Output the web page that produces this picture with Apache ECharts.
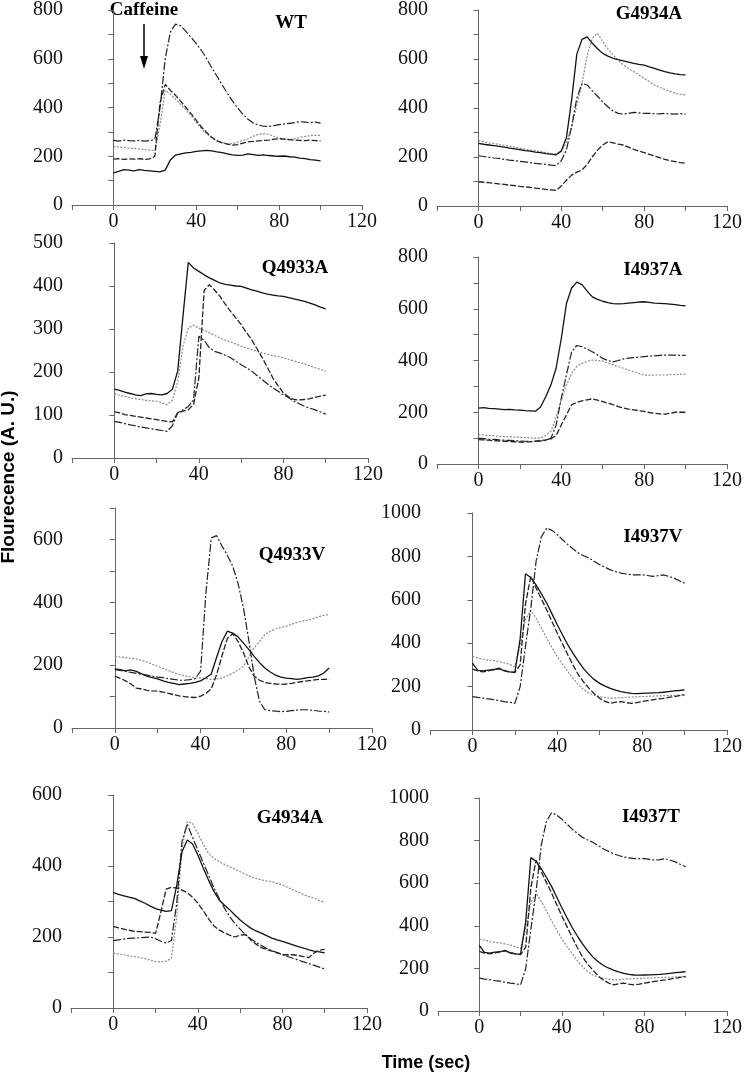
<!DOCTYPE html>
<html><head><meta charset="utf-8">
<script src="https://cdn.jsdelivr.net/npm/echarts@6/dist/echarts.min.js"></script>
<style>html,body{margin:0;padding:0;background:#fff}#c{width:745px;height:1075px}</style>
</head><body><div id="c"></div>
<script>
// time points (sec)
const time = [0,2.5,5,7.5,10,12.5,15,17.5,20,22.5,25,27.5,30,32.5,35,37.5,40,42.5,45,47.5,50,52.5,55,57.5,60,62.5,65,67.5,70,72.5,75,77.5,80,82.5,85,87.5,90,92.5,95,97.5,100];

const panelTitles = ['WT','G4934A','Q4933A','I4937A','Q4933V','I4937V','G4934A','I4937T'];
const xTickLabels = [0,40,80,120];
const yMax = [800,800,500,800,700,1000,600,1000];
const yLabelStep = [200,200,100,200,200,200,200,200];
const yTickStep = [100,100,100,100,100,200,100,200];

// WT
const wtDashDot = [265,262,266,264,263,265,262,264,268,400,600,710,742,735,712,688,662,634,600,563,528,493,458,426,398,372,352,336,328,323,322,326,330,332,335,338,342,340,338,340,336];
const wtDashed  = [188,190,187,189,188,190,187,189,200,420,495,470,450,425,400,375,347,320,297,278,263,255,250,246,248,254,259,261,263,265,266,270,272,270,268,266,265,264,266,264,263];
const wtGray    = [240,238,236,233,232,230,228,225,222,330,470,455,435,412,390,365,340,313,292,275,263,256,252,252,258,265,272,282,290,293,290,282,275,271,268,272,278,281,284,286,286];
const wtSolid   = [132,138,145,143,140,145,142,140,138,136,143,185,205,210,214,216,220,222,224,222,218,215,210,206,204,205,210,207,204,206,203,201,200,201,198,196,192,190,186,184,181];

// G4934A (top right)
const gaSolid   = [256,252,249,246,243,240,236,233,230,226,224,220,218,214,212,209,225,280,433,620,680,690,664,642,623,612,603,597,592,587,582,578,575,568,562,555,548,543,539,536,535];
const gaGray    = [267,262,258,255,251,248,244,240,236,232,228,225,222,218,214,212,220,262,324,410,500,615,684,705,671,642,616,594,575,560,548,535,521,508,494,484,476,468,460,456,453];
const gaDashDot = [205,202,199,196,194,190,187,185,182,180,177,174,172,170,167,165,185,230,324,440,500,494,470,448,425,405,388,378,375,378,382,380,378,378,377,376,378,376,375,377,375];
const gaDashed  = [99,97,95,93,90,88,85,83,80,78,76,73,71,68,66,64,82,105,126,138,147,170,201,228,249,262,258,253,249,240,231,224,218,211,204,197,190,185,181,177,174];

// Q4933A
const qaSolid   = [160,157,153,150,147,145,149,150,148,147,150,160,202,330,455,442,434,426,419,413,407,404,402,400,399,395,391,388,384,381,379,377,376,373,370,367,364,360,356,351,347];
const qaDashed  = [108,105,101,99,97,95,93,91,89,87,85,84,105,109,112,125,186,390,403,390,376,358,341,326,310,292,275,254,233,210,186,168,151,142,136,135,136,138,141,144,146];
const qaGray    = [149,146,143,140,138,136,134,133,132,128,124,135,178,260,302,309,302,297,291,285,279,274,270,265,260,256,252,248,244,241,238,236,233,229,226,222,219,214,210,206,202];
const qaDashDot = [85,83,80,77,75,72,70,68,66,64,62,75,105,112,120,135,283,274,256,248,244,239,233,225,217,210,202,192,182,172,163,155,147,140,132,126,120,116,112,107,102];

// I4937A
const iaSolid   = [216,218,215,214,212,210,211,209,208,206,205,204,220,260,306,370,485,620,680,703,693,668,646,636,629,624,620,619,620,622,624,626,627,625,622,621,620,618,616,613,611];
const iaDashDot = [100,98,96,95,93,92,91,90,89,88,87,88,89,91,100,150,254,345,434,458,453,444,434,421,408,400,395,400,406,409,411,413,415,417,418,420,421,421,421,420,420];
const iaGray    = [113,112,110,109,107,106,105,104,103,102,101,100,100,110,126,180,248,305,350,378,389,396,402,400,398,390,383,376,370,363,357,350,344,343,344,344,344,345,346,347,347];
const iaDashed  = [94,93,92,90,89,88,87,86,85,85,86,88,90,93,97,110,151,190,229,238,244,248,252,247,241,235,229,222,216,212,209,206,203,199,196,194,193,196,200,200,200];

// Q4933V
const qvDashDot = [186,183,180,177,174,171,168,165,162,160,157,155,152,152,154,157,181,430,605,612,579,550,515,460,382,280,165,85,58,55,54,52,53,55,57,58,58,56,54,53,51];
const qvGray    = [228,226,224,222,220,215,210,203,196,190,183,176,170,166,163,160,159,157,155,156,159,166,175,185,196,225,255,275,297,308,315,320,324,330,336,340,343,348,354,358,361];
const qvSolid   = [188,186,182,185,180,172,165,160,156,150,145,142,138,140,142,145,150,160,172,225,275,308,302,290,270,250,228,208,191,178,168,162,159,157,155,157,160,162,166,175,191];
const qvDashed  = [165,158,150,140,127,124,120,118,117,114,110,106,102,100,98,97,101,110,125,170,230,285,300,275,240,195,165,152,145,142,140,139,140,142,145,148,150,152,155,155,155];

// I4937V
const ivDashDot = [154,150,147,143,140,135,131,128,123,200,385,560,777,890,931,920,900,877,854,834,815,803,792,777,762,750,738,730,723,719,715,715,715,712,708,711,715,708,700,688,677];
const ivSolid   = [308,275,272,276,277,285,272,268,266,420,720,703,669,628,585,535,485,438,392,352,315,282,254,232,215,202,192,184,177,172,169,168,169,170,171,172,174,177,180,182,185];
const ivDashed  = [280,272,268,272,280,282,275,268,265,300,580,708,654,604,554,500,446,396,346,298,254,220,192,166,146,132,123,128,131,126,123,126,131,135,139,143,146,150,154,158,162];
const ivGray    = [338,332,326,322,320,315,310,302,292,390,510,552,515,470,423,380,338,302,269,237,208,186,169,160,154,150,146,147,149,151,152,153,154,155,156,157,158,159,160,161,162];

// G4934A (bottom left)
const gbGray    = [155,152,150,147,145,142,139,135,131,130,132,140,258,450,525,520,492,462,436,422,412,405,398,391,384,377,370,365,361,358,356,351,347,340,333,326,319,314,309,303,297];
const gbDashDot = [190,192,194,196,197,198,199,200,195,188,183,190,295,470,518,480,445,410,375,340,310,282,258,238,222,207,195,185,176,168,162,156,151,145,140,135,130,125,120,115,110];
const gbSolid   = [325,320,316,312,309,302,295,287,280,276,272,274,345,440,473,462,431,395,361,330,305,290,277,262,248,236,225,217,211,204,197,192,188,183,178,173,169,164,160,158,155];
const gbDashed  = [230,226,222,219,216,215,214,213,210,270,335,340,338,332,325,312,295,275,252,232,220,212,205,200,205,207,192,180,170,165,160,155,150,150,150,148,145,142,155,163,165];

// I4937T
const itDashDot = [154,150,147,143,140,135,131,128,123,200,385,560,777,890,931,920,900,877,854,834,815,803,792,777,762,750,738,730,723,719,715,715,715,712,708,711,715,708,700,688,677];
const itSolid   = [308,275,272,276,277,285,272,268,266,420,720,703,669,628,585,535,485,438,392,352,315,282,254,232,215,202,192,184,177,172,169,168,169,170,171,172,174,177,180,182,185];
const itDashed  = [280,272,268,272,280,282,275,268,265,300,580,708,654,604,554,500,446,396,346,298,254,220,192,166,146,132,123,128,131,126,123,126,131,135,139,143,146,150,154,158,162];
const itGray    = [338,332,326,322,320,315,310,302,292,390,510,552,515,470,423,380,338,302,269,237,208,186,169,160,154,150,146,147,149,151,152,153,154,155,156,157,158,159,160,161,162];

const panelSeries = [
  [[wtGray,'gray'],[wtSolid,'solid'],[wtDashed,'dashed'],[wtDashDot,'dashdot']],
  [[gaGray,'gray'],[gaSolid,'solid'],[gaDashDot,'dashdot'],[gaDashed,'dashed']],
  [[qaGray,'gray'],[qaSolid,'solid'],[qaDashed,'dashed'],[qaDashDot,'dashdot']],
  [[iaGray,'gray'],[iaSolid,'solid'],[iaDashDot,'dashdot'],[iaDashed,'dashed']],
  [[qvGray,'gray'],[qvSolid,'solid'],[qvDashed,'dashed'],[qvDashDot,'dashdot']],
  [[ivGray,'gray'],[ivSolid,'solid'],[ivDashed,'dashed'],[ivDashDot,'dashdot']],
  [[gbGray,'gray'],[gbSolid,'solid'],[gbDashed,'dashed'],[gbDashDot,'dashdot']],
  [[itGray,'gray'],[itSolid,'solid'],[itDashed,'dashed'],[itDashDot,'dashdot']]
];

// layout
const grids = [
  {left:72, top:9, width:290, height:196},
  {left:437, top:10, width:293, height:196},
  {left:72, top:243, width:296, height:215},
  {left:437, top:257, width:300, height:207},
  {left:72, top:508, width:300, height:220},
  {left:430, top:513, width:307, height:217},
  {left:71, top:795, width:296, height:213},
  {left:438, top:798, width:299, height:213}
];
const titlePos = [[291,23],[649,14],[295,268],[653,270],[292,555],[653,537],[290,818],[651,817]];

const styles = {
  solid:   {color:'#111', width:1.3, type:'solid'},
  dashed:  {color:'#222', width:1.3, type:[6,2]},
  dashdot: {color:'#222', width:1.2, type:[8,2,2,2]},
  gray:    {color:'#8a8a8a', width:1.2, type:[2,1.5]}
};

const axisColor = '#666';
const tickFont = {fontFamily:'"Liberation Serif","Times New Roman",serif', fontSize:20, color:'#111'};

const xAxes = [], yAxes = [], series = [], graphics = [];
grids.forEach((g, i) => {
  xAxes.push({
    type:'value', gridIndex:i, min:-20, max:120, interval:20,
    axisLine:{show:true, onZero:false, lineStyle:{color:axisColor, width:1}},
    axisTick:{show:true, length:5, lineStyle:{color:axisColor}},
    splitLine:{show:false},
    axisLabel:Object.assign({margin:7, formatter:v => xTickLabels.includes(v) ? String(v) : ''}, tickFont)
  });
  yAxes.push({
    type:'value', gridIndex:i, min:0, max:yMax[i], interval:yTickStep[i],
    axisLine:{show:true, lineStyle:{color:axisColor, width:1}},
    axisTick:{show:true, length:5, lineStyle:{color:axisColor}},
    splitLine:{show:false},
    axisLabel:Object.assign({margin:9, formatter:v => (v % yLabelStep[i] === 0) ? String(v) : ''}, tickFont)
  });
  panelSeries[i].forEach(([vals, st]) => {
    series.push({
      type:'line', xAxisIndex:i, yAxisIndex:i, showSymbol:false, silent:true,
      z: st === 'gray' ? 2 : 3,
      lineStyle:styles[st],
      data: vals.map((v, j) => [time[j], v])
    });
  });
  graphics.push({
    type:'text', x:titlePos[i][0], y:titlePos[i][1],
    style:{text:panelTitles[i], font:'bold 19px "Liberation Serif","Times New Roman",serif', fill:'#000', align:'center', verticalAlign:'middle'}
  });
});

// Caffeine annotation
graphics.push({type:'text', x:144, y:10, style:{text:'Caffeine', font:'bold 19px "Liberation Serif","Times New Roman",serif', fill:'#000', align:'center', verticalAlign:'middle'}});
graphics.push({type:'line', shape:{x1:144, y1:24, x2:144, y2:60}, style:{stroke:'#000', lineWidth:1.5}});
graphics.push({type:'polygon', shape:{points:[[140,56],[148,56],[144,69]]}, style:{fill:'#000'}});

// shared axis titles
graphics.push({type:'text', x:9, y:477, rotation:Math.PI/2, style:{text:'Flourecence (A. U.)', font:'bold 19px "Liberation Sans",Arial,sans-serif', fill:'#000', align:'center', verticalAlign:'middle'}});
graphics.push({type:'text', x:426, y:1063, style:{text:'Time (sec)', font:'bold 18px "Liberation Sans",Arial,sans-serif', fill:'#000', align:'center', verticalAlign:'middle'}});

const chart = echarts.init(document.getElementById('c'), null, {renderer:'canvas'});
chart.setOption({
  animation:false,
  backgroundColor:'#fff',
  grid:grids,
  xAxis:xAxes,
  yAxis:yAxes,
  series:series,
  graphic:graphics
});
</script>
</body></html>
